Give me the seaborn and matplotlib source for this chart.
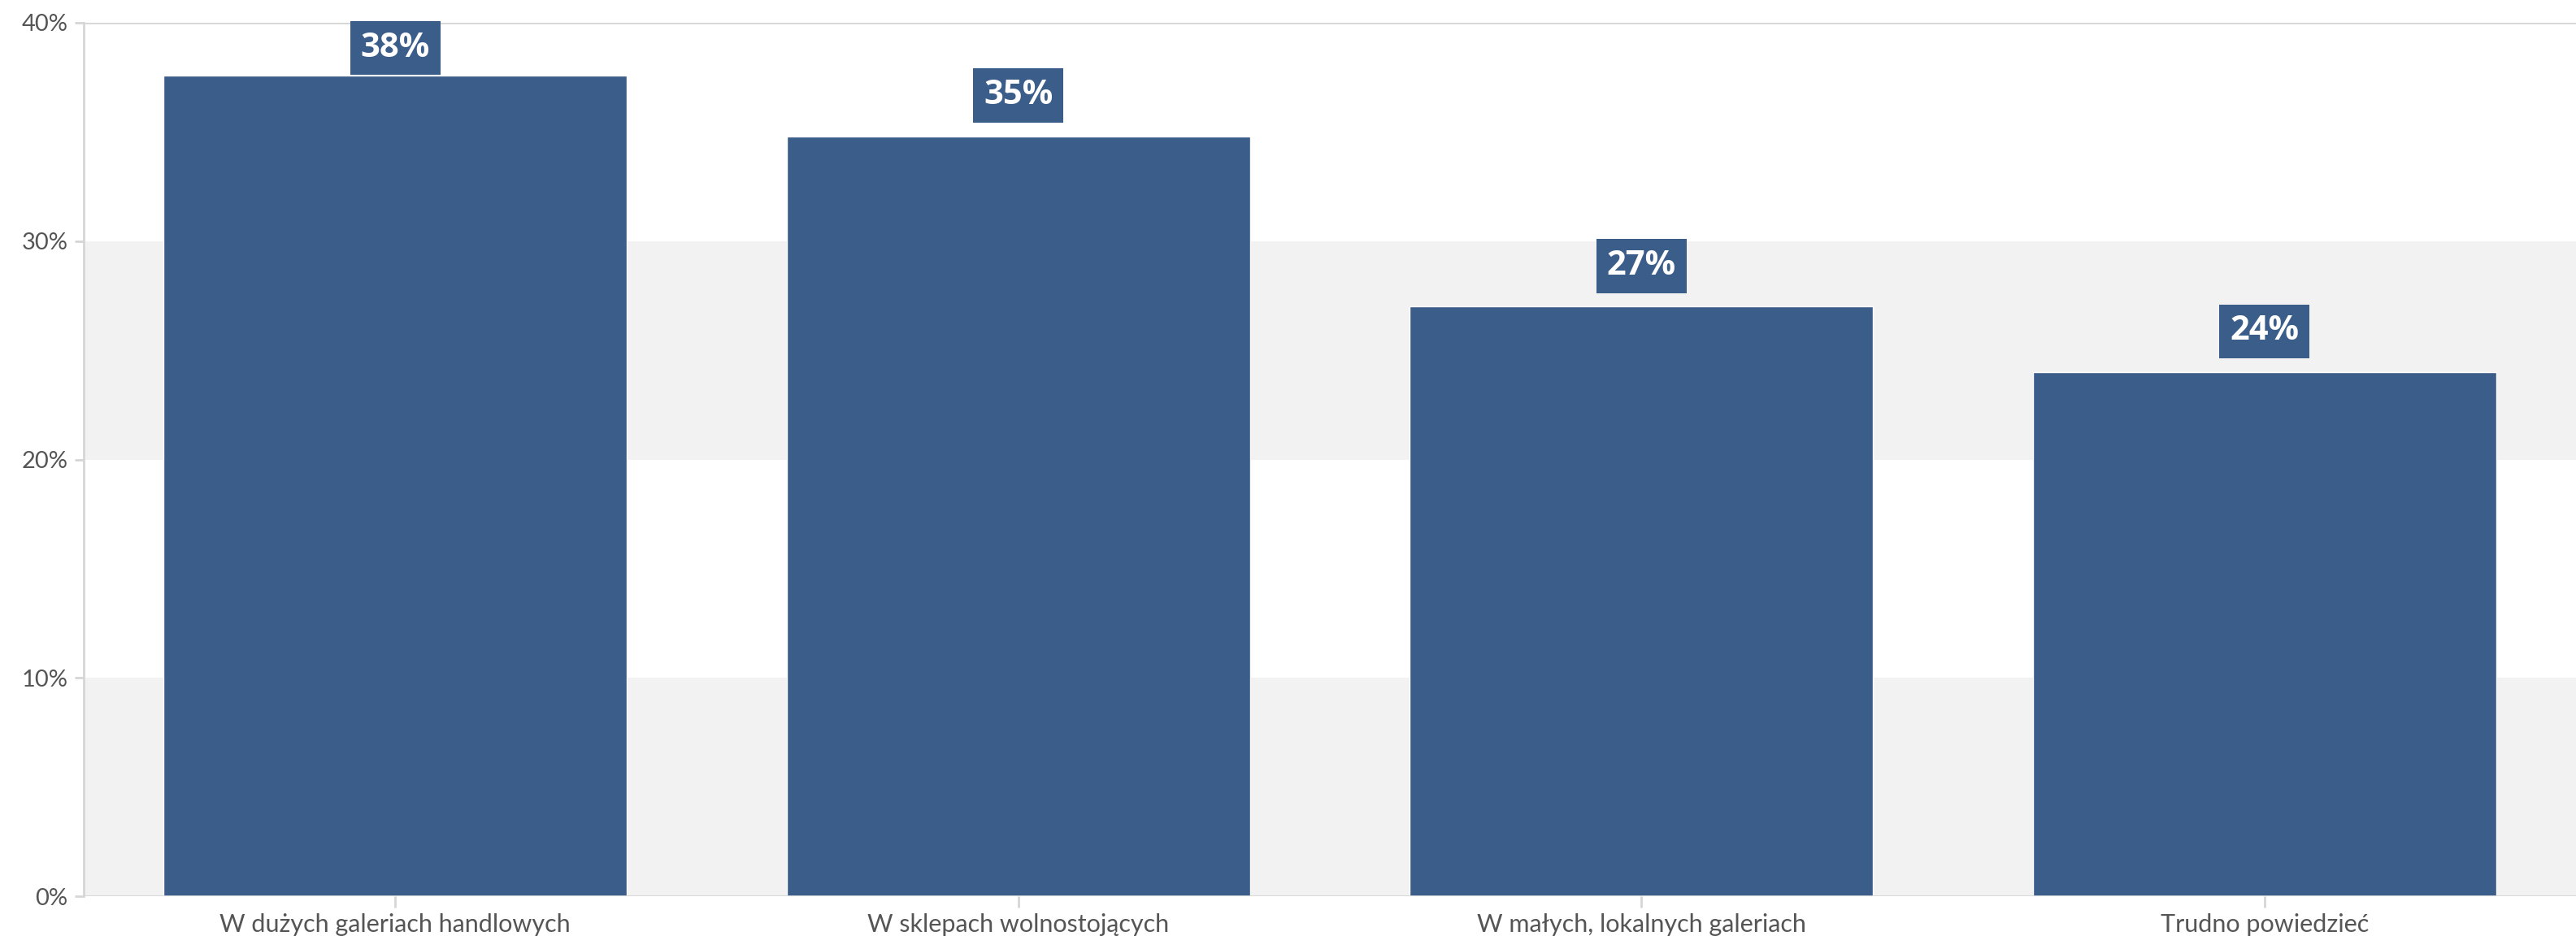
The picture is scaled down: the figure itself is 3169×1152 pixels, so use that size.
import matplotlib
matplotlib.use("Agg")
import matplotlib.pyplot as plt
import seaborn as sns
import pandas as pd

# Survey answers and their shares (percent)
categories = [
    "W dużych galeriach handlowych",
    "W sklepach wolnostojących",
    "W małych, lokalnych galeriach",
    "Trudno powiedzieć",
]
shares = [37.6, 34.8, 27.0, 24.0]
y_ticks = [0, 10, 20, 30, 40]
y_tick_labels = ["0%", "10%", "20%", "30%", "40%"]

BAR = "#3b5d89"
BAND = "#f2f2f2"
LINE = "#d6d6d6"
TEXT = "#555555"

sns.set_theme(style="white")
plt.rcParams["font.family"] = ["Lato", "DejaVu Sans"]

df = pd.DataFrame({"kategoria": categories, "udzial": shares})

FIG_W, FIG_H = 3169, 1152
AX_TOP, AX_BOTTOM = 28, 1103
fig = plt.figure(figsize=(FIG_W / 100, FIG_H / 100), dpi=100)
ax = fig.add_axes([103 / FIG_W, (FIG_H - AX_BOTTOM) / FIG_H, 1 - 103 / FIG_W,
                   (AX_BOTTOM - AX_TOP) / FIG_H])

# alternating horizontal bands behind the bars
for lo, hi in zip(y_ticks[:-1], y_ticks[1:]):
    if (lo // 10) % 2 == 0:
        ax.axhspan(lo, hi, color=BAND, lw=0, zorder=0)
ax.axhline(y_ticks[-1], color=LINE, lw=2, zorder=1)
ax.axhline(0, color=LINE, lw=2, zorder=3)

sns.barplot(data=df, x="kategoria", y="udzial", color=BAR, saturation=1,
            width=0.744, ax=ax, zorder=2)

ymax = y_ticks[-1]
px_per_unit = (AX_BOTTOM - AX_TOP) / ymax
gap_units = 50 / px_per_unit      # label centre above the bar top
half_box = 31 / px_per_unit       # keep the label box inside the plot
for i, v in enumerate(shares):
    yc = min(v + gap_units, ymax - half_box)
    ax.text(i, yc, f"{v:.0f}%", ha="center", va="center", color="white",
            fontsize=30, fontweight="bold", family=["Open Sans", "DejaVu Sans"],
            zorder=4, bbox=dict(boxstyle="square,pad=0.31", fc=BAR, ec="none"))

ax.set_xlim(-0.5, 3.5)
ax.set_ylim(0, ymax)
ax.set_yticks(y_ticks)
ax.set_yticklabels(y_tick_labels)
ax.set_xlabel("")
ax.set_ylabel("")

for s in ["top", "right", "bottom"]:
    ax.spines[s].set_visible(False)
ax.spines["left"].set_color(LINE)
ax.spines["left"].set_linewidth(2)

ax.tick_params(axis="y", which="major", left=True, length=8, width=2, color=LINE,
               labelsize=21, labelcolor=TEXT, pad=6)
ax.tick_params(axis="x", which="major", bottom=True, length=10, width=2, color=LINE,
               labelsize=22, labelcolor=TEXT, pad=5)

fig.savefig("out.png", dpi=100, facecolor="white")
